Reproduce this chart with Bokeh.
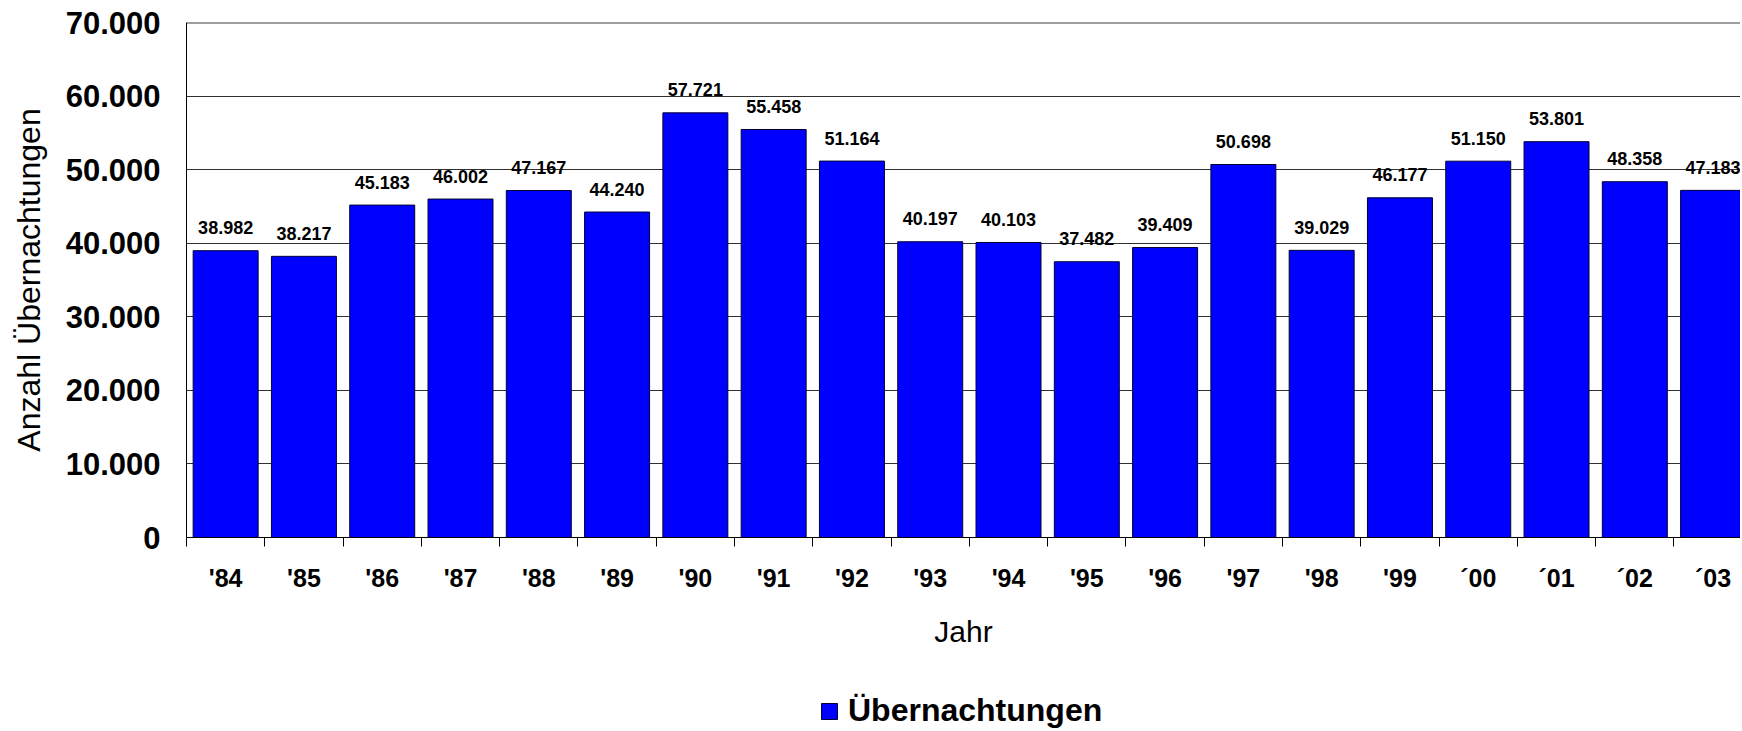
from bokeh.plotting import figure
from bokeh.layouts import column
from bokeh.models import Range1d, FixedTicker, ColumnDataSource, Legend, LegendItem, Span
from bokeh.core.properties import value
from bokeh.embed import file_html
from bokeh.resources import INLINE

years = ["'84", "'85", "'86", "'87", "'88", "'89", "'90", "'91", "'92", "'93",
         "'94", "'95", "'96", "'97", "'98", "'99", "\u00b400", "\u00b401", "\u00b402", "\u00b403"]
overnight_stays = [38982, 38217, 45183, 46002, 47167, 44240, 57721, 55458, 51164, 40197,
                   40103, 37482, 39409, 50698, 39029, 46177, 51150, 53801, 48358, 47183]
y_ticks = [0, 10000, 20000, 30000, 40000, 50000, 60000, 70000]
y_tick_labels = ["0", "10.000", "20.000", "30.000", "40.000", "50.000", "60.000", "70.000"]
series_name = "Übernachtungen"

xs = list(range(len(years)))
bar_labels = [f"{v:,}".replace(",", ".") for v in overnight_stays]
src = ColumnDataSource(dict(x=xs, top=overnight_stays, lab=bar_labels))

FONT = "Liberation Sans"
BAR_FILL = "#0000FF"
BAR_LINE = "#000033"
W = 1740

p = figure(width=W, height=685, output_backend="svg", toolbar_location=None,
           x_range=Range1d(-0.5, 19.35), y_range=Range1d(0, 70000),
           min_border_left=186, min_border_right=0, min_border_top=22, min_border_bottom=148)
p.outline_line_color = None
p.background_fill_color = "white"
p.border_fill_color = "white"

p.xgrid.visible = False
p.ygrid.ticker = FixedTicker(ticks=y_ticks)
p.ygrid.grid_line_color = "#303030"
p.ygrid.grid_line_width = 1

r = p.vbar(x="x", top="top", width=0.83, source=src, fill_color=BAR_FILL,
           line_color=BAR_LINE, line_width=1)

p.text(x="x", y="top", text="lab", source=src, text_align="center",
       text_baseline="alphabetic", y_offset=-23, text_font=value(FONT),
       text_font_style="bold", text_font_size="18px", text_color="black")

p.add_layout(Span(location=70000, dimension="width", line_color="#404040", line_width=2))

yax = p.yaxis[0]
yax.ticker = FixedTicker(ticks=y_ticks)
yax.major_label_overrides = {t: l for t, l in zip(y_ticks, y_tick_labels)}
yax.major_tick_out = 0
yax.major_tick_in = 0
yax.minor_tick_out = 0
yax.minor_tick_in = 0
yax.axis_line_color = "black"
yax.major_label_text_font = FONT
yax.major_label_text_font_style = "bold"
yax.major_label_text_font_size = "31px"
yax.major_label_text_color = "black"
yax.major_label_standoff = 26
yax.axis_label = "Anzahl Übernachtungen"
yax.axis_label_text_font = FONT
yax.axis_label_text_font_style = "normal"
yax.axis_label_text_font_size = "32px"
yax.axis_label_text_color = "black"
yax.axis_label_standoff = 16

xax = p.xaxis[0]
xax.ticker = FixedTicker(ticks=xs, minor_ticks=[i - 0.5 for i in range(len(years) + 1)])
xax.major_label_overrides = {i: l for i, l in enumerate(years)}
xax.major_tick_out = 0
xax.major_tick_in = 0
xax.minor_tick_out = 9
xax.minor_tick_in = 0
xax.minor_tick_line_color = "black"
xax.axis_line_color = "black"
xax.major_label_text_font = FONT
xax.major_label_text_font_style = "bold"
xax.major_label_text_font_size = "25px"
xax.major_label_text_color = "black"
xax.major_label_standoff = 17
xax.axis_label = "Jahr"
xax.axis_label_text_font = FONT
xax.axis_label_text_font_style = "normal"
xax.axis_label_text_font_size = "30px"
xax.axis_label_text_color = "black"
xax.axis_label_standoff = 20

# legend strip below the chart (frame aligned with the chart's frame)
p2 = figure(width=W, height=44, output_backend="svg", toolbar_location=None,
            x_range=Range1d(0, 1), y_range=Range1d(0, 1),
            x_axis_type=None, y_axis_type=None,
            min_border_left=0, min_border_right=0, min_border_top=0, min_border_bottom=0)
p2.outline_line_color = None
p2.xgrid.visible = False
p2.ygrid.visible = False
r2 = p2.vbar(x=[5], top=[0.5], width=0.83, fill_color=BAR_FILL, line_color=BAR_LINE, line_width=1)

legend = Legend(items=[LegendItem(label=series_name, renderers=[r2])],
                location=(633, 0), orientation="horizontal",
                glyph_width=20, glyph_height=20, label_standoff=9,
                padding=0, margin=0, border_line_color=None,
                background_fill_alpha=0,
                label_text_font=FONT, label_text_font_style="bold",
                label_text_font_size="32px", label_text_color="black")
p2.add_layout(legend, "center")

layout = column(p, p2, spacing=0)
open("out.html", "w").write(file_html(layout, INLINE))
